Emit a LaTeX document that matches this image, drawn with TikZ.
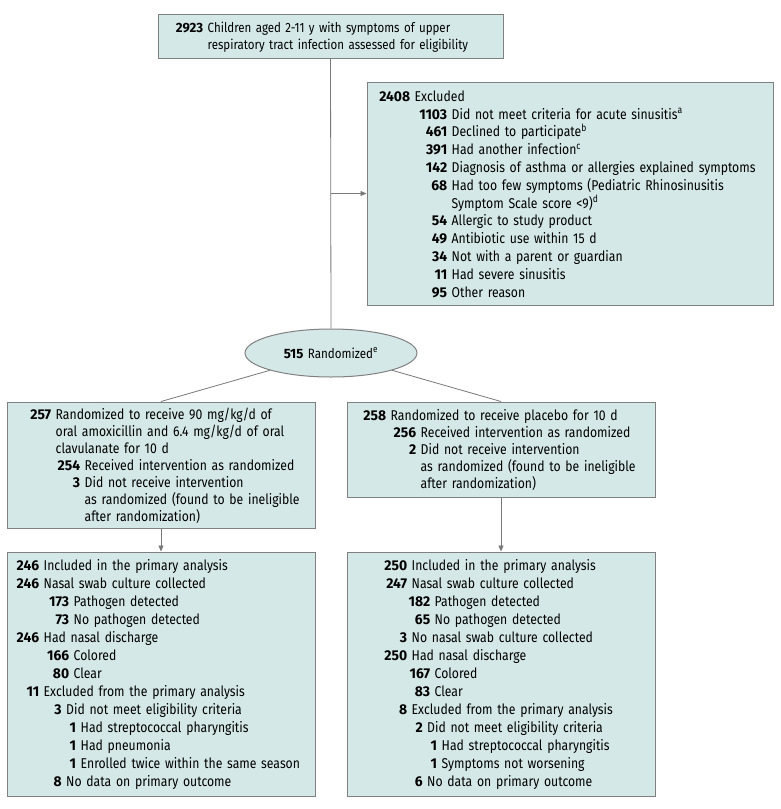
\documentclass[tikz,border=0pt]{standalone}
\usepackage{fontspec}
\setmainfont{Fira Sans}[FakeStretch=0.86]
\newfontfamily\numfont{Fira Sans}[FakeStretch=0.98]
\usetikzlibrary{arrows.meta,shapes.geometric}
\definecolor{boxfill}{RGB}{213,232,232}
\definecolor{boxline}{RGB}{128,128,128}
\definecolor{lineg}{RGB}{120,120,120}
\newcommand\nb[1]{{\numfont\bfseries #1}}
\newcommand\nm[3]{\hspace*{#1pt}\llap{\nb{#2}}\hspace{4.5pt}#3}
\newcommand\cn[2]{\hspace*{#1pt}\hspace{4.5pt}#2}
\newcommand\fl{\rule{0pt}{12pt}}
\begin{document}
\begin{tikzpicture}[x=1pt,y=-1pt,
  box/.style={draw=boxline, fill=boxfill, line width=1pt, inner sep=0pt, rectangle},
  oval/.style={draw=boxline, fill=boxfill, line width=1pt, inner sep=0pt, ellipse},
  txt/.style={anchor=north west, inner sep=0pt, text width=420pt, align=left},
  conn/.style={draw=lineg, line width=0.8pt},
  arr/.style={conn, -{Triangle[length=6pt,width=5pt]}}]
\useasboundingbox (0,0) rectangle (780,809);
% boxes
\node[box, minimum width=345pt, minimum height=44pt] (top) at (330.5,36) {};
\node[box, minimum width=406pt, minimum height=223pt] (excl) at (570,193.5) {};
\node[oval, minimum width=172pt, minimum height=48pt] (rand) at (331,353)
  {\fontsize{13.5}{16}\selectfont\nb{515}\hspace{4.5pt}Randomized\textsuperscript{e}};
\node[box, minimum width=308pt, minimum height=126pt] (lmid) at (161,465) {};
\node[box, minimum width=308pt, minimum height=95pt] (rmid) at (501,449.5) {};
\node[box, minimum width=308pt, minimum height=244pt] (lbot) at (161,674) {};
\node[box, minimum width=308pt, minimum height=244pt] (rbot) at (501,674) {};
% connectors
\coordinate (j) at (331,193.5);
\draw[conn] (top.south) -- (rand.north);
\draw[arr] (j) -- (excl.west);
\draw[conn] (rand.south west) -- (lmid.north);
\draw[conn] (rand.south east) -- (rmid.north);
\draw[arr] (lmid.south) -- (lbot.north);
\draw[arr] (rmid.south) -- (rbot.north);
% texts
\node[txt, font=\fontsize{13.4}{17.5}\selectfont] (ttop) at (158,20) {%
\nm{45}{2923}{\fl Children aged 2-11 y with symptoms of upper}\\
\cn{45}{respiratory tract infection assessed for eligibility}};
\node[txt, font=\fontsize{14.2}{17.8}\selectfont] (texcl) at (367,89) {%
\nm{43}{2408}{\fl Excluded}\\
\nm{80}{1103}{Did not meet criteria for acute sinusitis\textsuperscript{a}}\\
\nm{80}{461}{Declined to participate\textsuperscript{b}}\\
\nm{80}{391}{Had another infection\textsuperscript{c}}\\
\nm{80}{142}{Diagnosis of asthma or allergies explained symptoms}\\
\nm{80}{68}{Had too few symptoms (Pediatric Rhinosinusitis}\\
\cn{80}{Symptom Scale score <9)\textsuperscript{d}}\\
\nm{80}{54}{Allergic to study product}\\
\nm{80}{49}{Antibiotic use within 15 d}\\
\nm{80}{34}{Not with a parent or guardian}\\
\nm{80}{11}{Had severe sinusitis}\\
\nm{80}{95}{Other reason}};
\node[txt, font=\fontsize{14.2}{17}\selectfont] (tlmid) at (7,407) {%
\nm{44}{257}{\fl Randomized to receive 90 mg/kg/d of}\\
\cn{44}{oral amoxicillin and 6.4 mg/kg/d of oral}\\
\cn{44}{clavulanate for 10 d}\\
\nm{73}{254}{Received intervention as randomized}\\
\nm{73}{3}{Did not receive intervention}\\
\cn{73}{as randomized (found to be ineligible}\\
\cn{73}{after randomization)}};
\node[txt, font=\fontsize{14.2}{17}\selectfont] (trmid) at (347,408) {%
\nm{39}{258}{\fl Randomized to receive placebo for 10 d}\\
\nm{69}{256}{Received intervention as randomized}\\
\nm{69}{2}{Did not receive intervention}\\
\cn{69}{as randomized (found to be ineligible}\\
\cn{69}{after randomization)}};
\node[txt, font=\fontsize{14.2}{18}\selectfont] (tlbot) at (7,558.7) {%
\nm{32}{246}{\fl Included in the primary analysis}\\
\nm{32}{246}{Nasal swab culture collected}\\
\nm{62}{173}{Pathogen detected}\\
\nm{62}{73}{No pathogen detected}\\
\nm{32}{246}{Had nasal discharge}\\
\nm{62}{166}{Colored}\\
\nm{62}{80}{Clear}\\
\nm{32}{11}{Excluded from the primary analysis}\\
\nm{54.5}{3}{Did not meet eligibility criteria}\\
\nm{69}{1}{Had streptococcal pharyngitis}\\
\nm{69}{1}{Had pneumonia}\\
\nm{69}{1}{Enrolled twice within the same season}\\
\nm{54.5}{8}{No data on primary outcome}};
\node[txt, font=\fontsize{14.2}{18}\selectfont] (trbot) at (347,558.7) {%
\nm{60}{250}{\fl Included in the primary analysis}\\
\nm{60}{247}{Nasal swab culture collected}\\
\nm{83}{182}{Pathogen detected}\\
\nm{83}{65}{No pathogen detected}\\
\nm{60}{3}{No nasal swab culture collected}\\
\nm{60}{250}{Had nasal discharge}\\
\nm{83}{167}{Colored}\\
\nm{83}{83}{Clear}\\
\nm{60}{8}{Excluded from the primary analysis}\\
\nm{75.5}{2}{Did not meet eligibility criteria}\\
\nm{90}{1}{Had streptococcal pharyngitis}\\
\nm{90}{1}{Symptoms not worsening}\\
\nm{75.5}{6}{No data on primary outcome}};
\end{tikzpicture}
\end{document}
